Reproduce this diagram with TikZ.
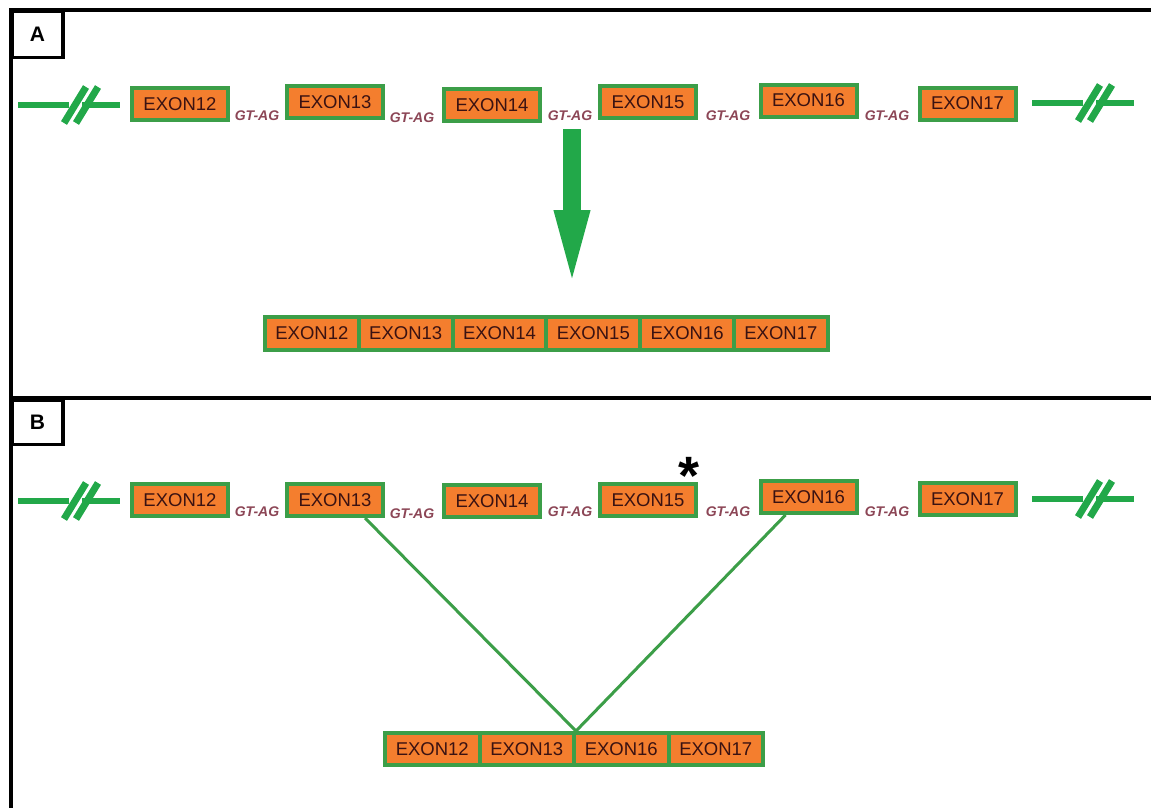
\documentclass[tikz,border=0pt]{standalone}
\usepackage{fontspec}
\setmainfont{Liberation Sans}
\usetikzlibrary{arrows.meta,calc}
\definecolor{exorange}{HTML}{F47E2E}
\definecolor{exgreen}{HTML}{3C9E48}
\definecolor{brgreen}{HTML}{22A849}
\definecolor{extext}{HTML}{3A1212}
\definecolor{splice}{HTML}{8C4656}
\begin{document}
\begin{tikzpicture}[x=1pt,y=-1pt,
  exon/.style={draw=exgreen, line width=4pt, fill=exorange, text=extext,
    font=\fontsize{18.5}{20}\selectfont, minimum width=96pt, minimum height=32pt, inner sep=0pt},
  cellA/.style={exon, minimum width=93.8pt, minimum height=33pt},
  cellB/.style={exon, minimum width=94.5pt, minimum height=32pt},
  gtag/.style={text=splice, inner sep=0pt, font=\fontsize{14}{14}\selectfont\bfseries\itshape},
  panel/.style={draw=black, line width=4pt},
  tag/.style={draw=black, line width=3.5pt, anchor=north west, inner sep=0pt,
    minimum width=50.5pt, minimum height=46pt, font=\fontsize{21}{21}\selectfont\bfseries},
  link/.style={draw=exgreen, line width=3pt},
  gapmark/.pic={
    \draw[brgreen, line width=6pt] (-51,0) -- (0,0);
    \draw[brgreen, line width=6pt] (13,0) -- (51,0);
    \draw[brgreen, line width=7pt] (-5,18) -- (17,-18);
    \draw[brgreen, line width=7pt] (7,18) -- (29,-18);
  }]
\clip (0,0) rectangle (1151,807);
\fill[white] (0,0) rectangle (1151,807);

% frames of the two panels (open to the right and bottom)
\draw[panel] (10.5,830) -- (10.5,9.5) -- (1160,9.5);
\draw[panel] (10.5,398) -- (1160,398);
\node[tag] (tagA) at (10.5,9.5) {A};
\node[tag, minimum height=44.5pt] (tagB) at (10.5,398) {B};

% ---------- panel A: gene with introns ----------
\pic at (69,105) {gapmark};
\pic at (1083,103) {gapmark};
\node[exon] (a12) at (180,104) {EXON12};
\node[exon] (a13) at (335,102) {EXON13};
\node[exon] (a14) at (492,105) {EXON14};
\node[exon] (a15) at (648,102) {EXON15};
\node[exon] (a16) at (808.5,100.5) {EXON16};
\node[exon] (a17) at (967.5,103.5) {EXON17};
\node[gtag] (ga1) at (257,116) {GT-AG};
\node[gtag] (ga2) at (412,118) {GT-AG};
\node[gtag] (ga3) at (570,116) {GT-AG};
\node[gtag] (ga4) at (728,116) {GT-AG};
\node[gtag] (ga5) at (887,116) {GT-AG};

% splicing arrow
\coordinate (arrtop) at (572,129);
\coordinate (arrtip) at (572,297);
\draw[brgreen, line width=18pt, -{Triangle[length=87pt,width=30pt]}] (arrtop) -- (arrtip);

% mature transcript A
\node[cellA] (ma12) at (311.9,333.5) {EXON12};
\node[cellA] (ma13) at (405.7,333.5) {EXON13};
\node[cellA] (ma14) at (499.5,333.5) {EXON14};
\node[cellA] (ma15) at (593.3,333.5) {EXON15};
\node[cellA] (ma16) at (687.1,333.5) {EXON16};
\node[cellA] (ma17) at (780.9,333.5) {EXON17};

% ---------- panel B: exon skipping ----------
\pic at (69,501) {gapmark};
\pic at (1083,499) {gapmark};
\node[cellB] (mb12) at (432.25,749) {EXON12};
\node[cellB] (mb13) at (526.75,749) {EXON13};
\node[cellB] (mb16) at (621.25,749) {EXON16};
\node[cellB] (mb17) at (715.75,749) {EXON17};

\node[exon, draw=none, fill=none, text opacity=0] (b13) at (335,500) {EXON13};
\node[exon, draw=none, fill=none, text opacity=0] (b16) at (808.5,497) {EXON16};
\draw[link] ($(b13.south west)!0.8!(b13.south east)$) -- (mb13.north east)
  -- ($(b16.south west)!0.27!(b16.south east)$);

\node[exon] (b12) at (180,500) {EXON12};
\node[exon] at (b13) {EXON13};
\node[exon] (b14) at (492,501) {EXON14};
\node[exon] (b15) at (648,500) {EXON15};
\node[exon] at (b16) {EXON16};
\node[exon] (b17) at (967.5,499) {EXON17};
\node[gtag] (gb1) at (257,512) {GT-AG};
\node[gtag] (gb2) at (412,514) {GT-AG};
\node[gtag] (gb3) at (570,512) {GT-AG};
\node[gtag] (gb4) at (728,512) {GT-AG};
\node[gtag] (gb5) at (887,512) {GT-AG};
\node[anchor=north, inner sep=0pt, font=\fontsize{54}{54}\selectfont\bfseries] (star) at (689,457) {*};
\end{tikzpicture}
\end{document}
